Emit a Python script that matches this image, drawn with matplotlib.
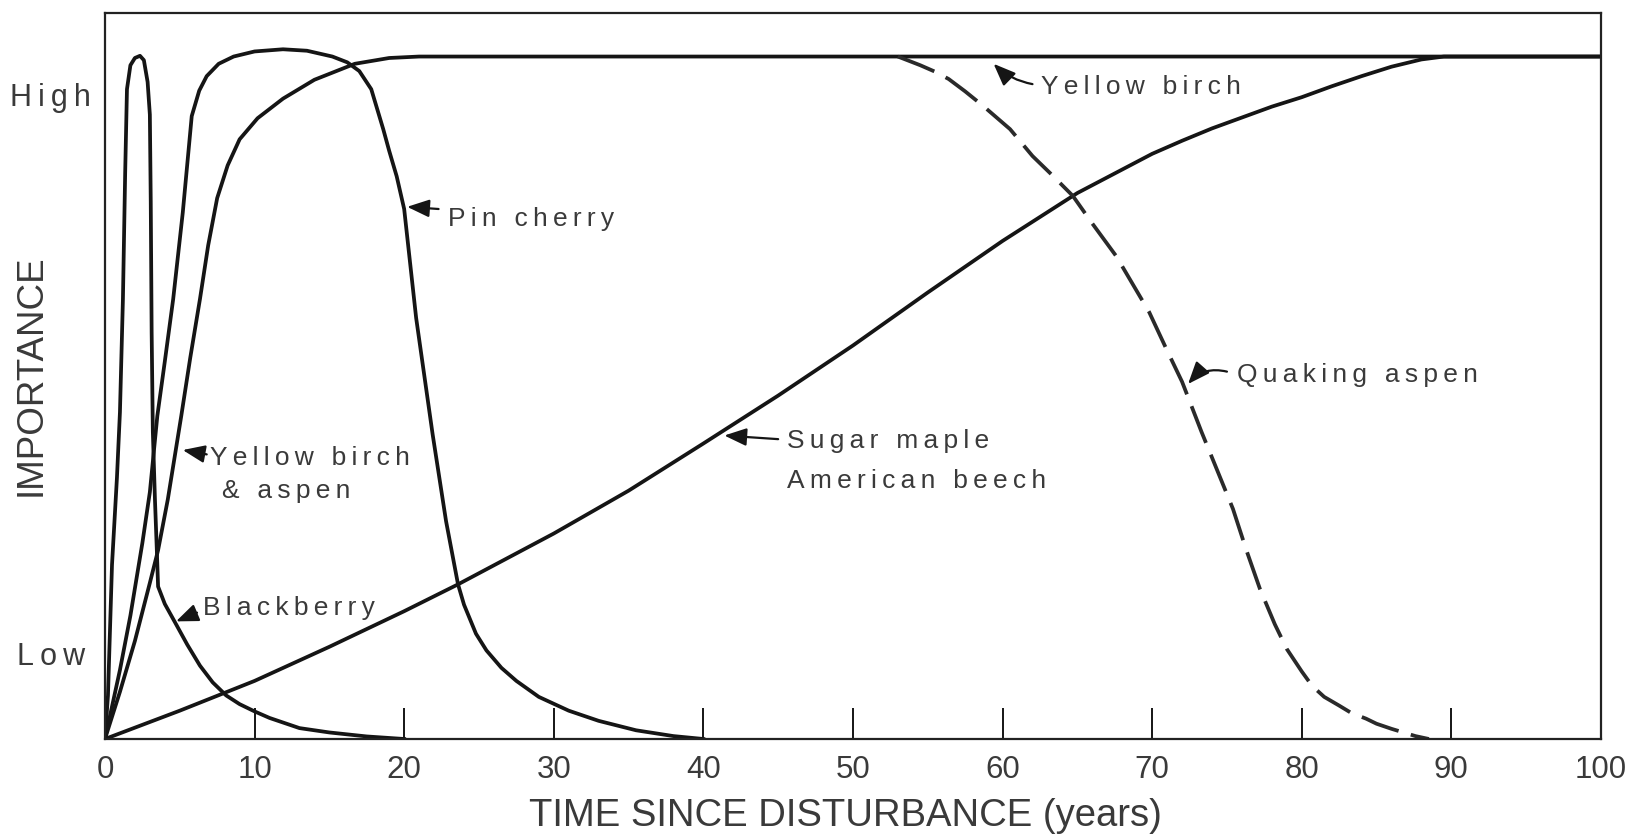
import matplotlib.pyplot as plt
import matplotlib.transforms as mtransforms

# =====================================================
# Data
# x = years since disturbance, y = relative importance (0..100)
# =====================================================

blackberry_x = [0, 0.2, 0.47, 0.8, 1.0, 1.2, 1.35, 1.47, 1.7, 2.0, 2.34, 2.6, 2.85,
                3.0, 3.06, 3.12, 3.2, 3.34, 3.47, 3.55, 4.0, 4.7, 5.5, 6.35, 7.2,
                8.1, 9.0, 10, 11, 13, 15, 17.5, 20]
blackberry_y = [0, 6, 24, 36, 45, 60.6, 78, 89.5, 92.8, 93.8, 94.1, 93.5, 90.5,
                86, 74, 56, 42.3, 33, 25.8, 21, 18.6, 16, 13, 10.1, 7.8,
                6.0, 4.8, 3.8, 2.9, 1.5, 0.9, 0.35, 0]

pin_cherry_x = [0, 1.0, 1.7, 2.5, 3.0, 3.5, 4.0, 4.56, 5.2, 5.8, 6.3, 6.8, 7.6, 8.6,
                10, 11.9, 13.5, 15.2, 16.2, 17.0, 17.8, 18.6, 19.0, 19.5, 20.0, 20.8,
                21.9, 22.8, 23.6, 24.0, 24.8, 25.5, 26.5, 27.5, 29, 31, 33, 35.5, 38, 40]
pin_cherry_y = [0, 9.5, 17, 27, 34, 44.5, 52, 60.6, 72.5, 85.8, 89.3, 91.3, 93, 94,
                94.7, 95, 94.8, 94, 93.2, 92, 89.5, 84, 81, 77.5, 73, 58,
                42, 30, 21.3, 18.5, 14.5, 12.2, 9.8, 8, 5.8, 3.9, 2.5, 1.2, 0.4, 0]

yb_aspen_x = [0, 1, 2, 3, 3.55, 4.2, 5.1, 5.7, 6.35, 6.9, 7.5, 8.2, 9.0, 10.2,
              11.9, 14, 16.7, 19, 21, 30, 40, 50, 60, 70, 80, 90, 100]
yb_aspen_y = [0, 6.5, 13.5, 21.5, 26, 33, 44.5, 52.5, 60.6, 68, 74.5, 79, 82.6, 85.5,
              88.2, 90.8, 93, 93.8, 94, 94, 94, 94, 94, 94, 94, 94, 94]

maple_beech_x = [0, 5, 10, 15, 20, 23.6, 30, 35, 40, 45, 50, 55, 60, 65, 70, 72, 74,
                 76, 78, 80, 82, 84, 86, 88, 89.5, 100]
maple_beech_y = [0, 3.9, 8.0, 12.7, 17.6, 21.3, 28.3, 34.2, 40.7, 47.3, 54.2, 61.5,
                 68.6, 75.2, 80.6, 82.4, 84.1, 85.6, 87.1, 88.4, 89.9, 91.3, 92.6,
                 93.6, 94, 94]

quaking_aspen_x = [53, 54.5, 55.5, 56.4, 57.5, 58.7, 60.5, 62, 63.3, 64.7, 66, 67.6,
                   69.8, 71, 72, 73.3, 75.4, 76.3, 77.2, 78.2, 79, 80, 80.7, 81.5,
                   82.5, 83.3, 84.3, 85, 86, 87.6, 88.5]
quaking_aspen_y = [94, 92.8, 91.9, 90.9, 89.2, 87.2, 84, 80.3, 77.7, 74.8, 71, 66.5,
                   58.8, 53.5, 49.2, 42.3, 31.7, 26, 20.7, 15.8, 12.4, 9.3, 7.3, 5.8,
                   4.6, 3.6, 2.8, 2.1, 1.4, 0.4, 0]

x_ticks = list(range(0, 101, 10))
y_tick_pos = [11.9, 88.9]
y_tick_labels = ['Low', 'High']

# =====================================================
# Style
# =====================================================

plt.rcParams['font.family'] = ['Liberation Sans', 'DejaVu Sans']

LINE_COLOR = '#151515'
TEXT_COLOR = '#3a3a3a'
LW = 2.7


def spaced(s):
    # the original lettering is widely tracked
    return '\u2009'.join(s)


fig = plt.figure(figsize=(16.25, 8.37), dpi=100)
fig.patch.set_facecolor('white')
ax = fig.add_axes([0.0646, 0.1159, 0.9206, 0.8674])

# =====================================================
# Curves
# =====================================================

ax.plot(blackberry_x, blackberry_y, color=LINE_COLOR, lw=LW, solid_joinstyle='round')
ax.plot(pin_cherry_x, pin_cherry_y, color=LINE_COLOR, lw=LW, solid_joinstyle='round')
ax.plot(yb_aspen_x, yb_aspen_y, color=LINE_COLOR, lw=LW, solid_joinstyle='round')
ax.plot(maple_beech_x, maple_beech_y, color=LINE_COLOR, lw=LW, solid_joinstyle='round')
ax.plot(quaking_aspen_x, quaking_aspen_y, color='#2a2a2a', lw=LW,
        dashes=(10.5, 3.4), dash_capstyle='butt')

# =====================================================
# Labels with arrows
# =====================================================

arrow = dict(arrowstyle='-|>,head_length=0.75,head_width=0.3', color=LINE_COLOR,
             lw=1.6, shrinkA=0, shrinkB=0, mutation_scale=18)
label_kw = dict(fontsize=19, color=TEXT_COLOR, ha='left', va='baseline')

ax.annotate('', xy=(20.2, 73.3), xytext=(22.3, 73.0), arrowprops=arrow)
ax.text(22.9, 70.8, spaced('Pin cherry'), **label_kw)

ax.annotate('', xy=(59.4, 93.0), xytext=(62.0, 90.2),
            arrowprops=dict(arrow, connectionstyle='arc3,rad=-0.15'))
ax.text(62.55, 89.0, spaced('Yellow birch'), **label_kw)

ax.annotate('', xy=(72.4, 48.9), xytext=(75.0, 50.6),
            arrowprops=dict(arrow, connectionstyle='arc3,rad=0.3'))
ax.text(75.7, 49.3, spaced('Quaking aspen'), **label_kw)

ax.annotate('', xy=(41.4, 41.8), xytext=(45.0, 41.3), arrowprops=arrow)
ax.text(45.6, 40.2, spaced('Sugar maple'), **label_kw)
ax.text(45.6, 34.7, spaced('American beech'), **label_kw)

ax.annotate('', xy=(5.2, 39.8), xytext=(6.8, 39.2), arrowprops=arrow)
ax.text(7.0, 37.9, spaced('Yellow birch'), **label_kw)
ax.text(7.8, 33.3, spaced('& aspen'), **label_kw)

ax.annotate('', xy=(4.75, 16.2), xytext=(6.15, 17.4), arrowprops=arrow)
ax.text(6.55, 17.2, spaced('Blackberry'), **label_kw)

# =====================================================
# Axes
# =====================================================

ax.set_xlim(0, 100)
ax.set_ylim(0, 100)

ax.set_xticks(x_ticks)
ax.set_xticklabels([str(t) for t in x_ticks])
ax.tick_params(axis='x', direction='in', length=22, width=1.4, pad=10.5,
               labelsize=22.5, labelcolor=TEXT_COLOR, color=LINE_COLOR)

ax.set_yticks(y_tick_pos)
ax.set_yticklabels([spaced(s) for s in y_tick_labels])
ax.tick_params(axis='y', length=0, pad=14, labelsize=22, labelcolor=TEXT_COLOR)

# "High" sits a little closer to the frame than "Low"
high = ax.get_yticklabels()[1]
high.set_transform(high.get_transform()
                   + mtransforms.ScaledTranslation(0.05, 0, fig.dpi_scale_trans))

for side in ['left', 'right', 'top', 'bottom']:
    ax.spines[side].set_linewidth(1.6)
    ax.spines[side].set_color('#222222')

ax.set_xlabel('TIME SINCE DISTURBANCE (years)', fontsize=27.5, color=TEXT_COLOR)
ax.xaxis.label.set_verticalalignment('baseline')
ax.xaxis.set_label_coords(0.4947, -0.1185)

ax.set_ylabel('IMPORTANCE', fontsize=26.5, color=TEXT_COLOR)
ax.yaxis.label.set_verticalalignment('baseline')
ax.yaxis.set_label_coords(-0.043, 0.503)

fig.savefig('out.png', dpi=100)
